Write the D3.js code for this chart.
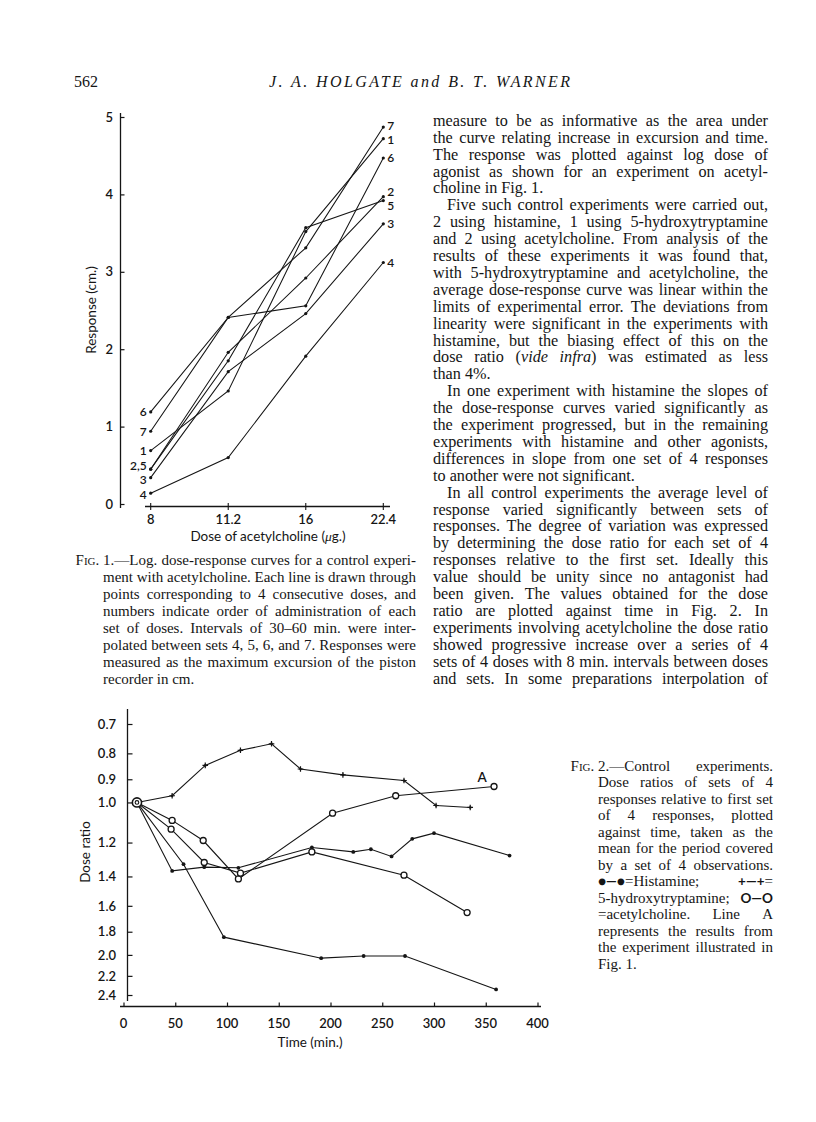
<!DOCTYPE html>
<html><head><meta charset="utf-8">
<script src="https://cdn.jsdelivr.net/npm/d3@7"></script>
<style>
body{margin:0;background:#fff;}
svg{display:block;}
</style></head><body>
<script>
// ================= DATA =================
// Fig. 1 : log dose-response curves (response in cm)
const doses = ["8", "11.2", "16", "22.4"];
const responseTicks = [0, 1, 2, 3, 4, 5];
const set1 = [0.69, 1.46, 3.52, 4.72];
const set2 = [0.45, 1.96, 2.92, 3.97];
const set3 = [0.34, 1.71, 2.46, 3.62];
const set4 = [0.14, 0.60, 1.91, 3.12];
const set5 = [0.45, 1.85, 3.57, 3.92];
const set6 = [1.19, 2.41, 2.56, 4.47];
const set7 = [0.94, 2.41, 3.31, 4.87];
const setNames = ["1", "2", "3", "4", "5", "6", "7"];
const startLabels = ["1", "2,5", "3", "4", "", "6", "7"];

// Fig. 2 : dose ratio against time
const timeTicks = [0, 50, 100, 150, 200, 250, 300, 350, 400];
const ratioTicks = [0.7, 0.8, 0.9, 1.0, 1.2, 1.4, 1.6, 1.8, 2.0, 2.2, 2.4];
const ratioTickLabels = ["0.7", "0.8", "0.9", "1.0", "1.2", "1.4", "1.6", "1.8", "2.0", "2.2", "2.4"];
const startTime = 13;
const ht5Time  = [13, 47, 79, 113, 143, 171, 212, 271, 302, 335];
const ht5Ratio = [1.0, 0.97, 0.845, 0.789, 0.766, 0.859, 0.882, 0.905, 1.014, 1.023];
const achATime  = [13, 47, 77, 111, 202, 263, 358];
const achARatio = [1.0, 1.085, 1.189, 1.416, 1.05, 0.97, 0.93];
const achBTime  = [13, 46, 78, 113, 182, 271, 332];
const achBRatio = [1.0, 1.129, 1.314, 1.379, 1.252, 1.392, 1.65];
const hist1Time  = [13, 47, 78, 111, 182, 222, 239, 259, 279, 300, 373];
const hist1Ratio = [1.0, 1.365, 1.342, 1.346, 1.227, 1.252, 1.237, 1.278, 1.18, 1.15, 1.273];
const hist2Time  = [13, 58, 97, 191, 232, 272, 360];
const hist2Ratio = [1.0, 1.324, 1.845, 2.03, 2.01, 2.01, 2.34];

// Page text (* italic, ~ small caps, # bold sans)
const pageNumber = "562";
const runningHead = "J. A. HOLGATE and B. T. WARNER";
const bodyLines = [
  "measure to be as informative as the area under",
  "the curve relating increase in excursion and time.",
  "The response was plotted against log dose of",
  "agonist as shown for an experiment on acetyl-",
  "choline in Fig. 1.",
  "Five such control experiments were carried out,",
  "2 using histamine, 1 using 5-hydroxytryptamine",
  "and 2 using acetylcholine. From analysis of the",
  "results of these experiments it was found that,",
  "with 5-hydroxytryptamine and acetylcholine, the",
  "average dose-response curve was linear within the",
  "limits of experimental error. The deviations from",
  "linearity were significant in the experiments with",
  "histamine, but the biasing effect of this on the",
  "dose ratio (*vide* *infra*) was estimated as less",
  "than 4%.",
  "In one experiment with histamine the slopes of",
  "the dose-response curves varied significantly as",
  "the experiment progressed, but in the remaining",
  "experiments with histamine and other agonists,",
  "differences in slope from one set of 4 responses",
  "to another were not significant.",
  "In all control experiments the average level of",
  "response varied significantly between sets of",
  "responses. The degree of variation was expressed",
  "by determining the dose ratio for each set of 4",
  "responses relative to the first set. Ideally this",
  "value should be unity since no antagonist had",
  "been given. The values obtained for the dose",
  "ratio are plotted against time in Fig. 2. In",
  "experiments involving acetylcholine the dose ratio",
  "showed progressive increase over a series of 4",
  "sets of 4 doses with 8 min. intervals between doses",
  "and sets. In some preparations interpolation of"
];
const bodyParaStarts = [5, 16, 22];
const bodyParaEnds = [4, 15, 21];

const fig1Label = "~Fig.~";
const fig1Caption = [
  "1.—Log. dose-response curves for a control experi-",
  "ment with acetylcholine. Each line is drawn through",
  "points corresponding to 4 consecutive doses, and",
  "numbers indicate order of administration of each",
  "set of doses. Intervals of 30–60 min. were inter-",
  "polated between sets 4, 5, 6, and 7. Responses were",
  "measured as the maximum excursion of the piston",
  "recorder in cm."
];
const fig2Label = "~Fig.~";
const fig2Caption = [
  "2.—Control experiments.",
  "Dose ratios of sets of 4",
  "responses relative to first set",
  "of 4 responses, plotted",
  "against time, taken as the",
  "mean for the period covered",
  "by a set of 4 observations.",
  "#●—●#=Histamine; #+—+#=",
  "5-hydroxytryptamine; #O—O#",
  "=acetylcholine. Line A",
  "represents the results from",
  "the experiment illustrated in",
  "Fig. 1."
];

// ================= DRAWING =================
const W = 816, H = 1122;
const SERIF = "'Liberation Serif','Times New Roman',serif";
const SANS = "Lato,'Open Sans','DejaVu Sans',sans-serif";
const INK = "#151515";

const svg = d3.select("body").append("svg").attr("width", W).attr("height", H)
  .style("background", "#fff");

function makeWord(g, w, y, fs) {
  const t = g.append("text").attr("y", y)
    .attr("font-family", SERIF).attr("font-size", fs).attr("fill", INK);
  let it = false, sc = false, sb = false, buf = "";
  const flush = () => {
    if (!buf) return;
    const ts = t.append("tspan").text(buf);
    if (it) ts.attr("font-style", "italic");
    if (sc) ts.attr("font-variant", "small-caps");
    if (sb) ts.attr("font-family", SANS).attr("font-weight", "bold").attr("font-size", fs * 0.9);
    buf = "";
  };
  for (const ch of w) {
    if (ch === "*") { flush(); it = !it; }
    else if (ch === "~") { flush(); sc = !sc; }
    else if (ch === "#") { flush(); sb = !sb; }
    else buf += ch;
  }
  flush();
  return { t, w: t.node().getComputedTextLength() };
}

function textLine(g, str, x0, x1, y, justify, fs, lead) {
  const words = str.split(/ +/).filter(s => s.length);
  const nodes = words.map(w => makeWord(g, w, y, fs));
  let total = d3.sum(nodes, d => d.w);
  const sp = fs * 0.25, minGap = fs * 0.16;
  const n = nodes.length;
  if (n > 1 && total + (n - 1) * minGap > x1 - x0) {
    const s = (x1 - x0 - (n - 1) * minGap) / total;
    nodes.forEach(d => { d.t.attr("font-size", fs * s); d.w *= s; });
    total *= s;
  }
  const gap = (justify && n > 1) ? (x1 - x0 - total) / (n - 1) : sp;
  let x = x0;
  nodes.forEach(d => { d.t.attr("x", x); x += d.w + gap; });
  if (lead) {
    const L = makeWord(g, lead, y, fs);
    L.t.attr("x", x0 - L.w - sp);
  }
}

// ---- header
const head = svg.append("g");
head.append("text").attr("x", 74).attr("y", 87).attr("font-family", SERIF)
  .attr("font-size", 16).attr("fill", INK).text(pageNumber);
head.append("text").attr("x", 269).attr("y", 87).attr("font-family", SERIF)
  .attr("font-size", 16).attr("font-style", "italic").attr("fill", INK)
  .attr("textLength", 301).attr("lengthAdjust", "spacing").text(runningHead);

// ---- right column body text
const BFS = 16.2;
const LH = 16.9, L0 = 121, BASE = 4.8;
const body = svg.append("g");
bodyLines.forEach((s, i) => {
  const indent = bodyParaStarts.includes(i) ? 14 : 0;
  textLine(body, s, 433 + indent, 768, L0 + i * LH + BASE, !bodyParaEnds.includes(i), BFS);
});

// ---- Fig. 1 caption (aligned with body lines 26..33), hanging label
const CFS = 15.0;
const cap1 = svg.append("g");
fig1Caption.forEach((s, i) => {
  textLine(cap1, s, 103, 416, L0 + (26 + i) * LH + BASE, i < fig1Caption.length - 1, CFS,
    i === 0 ? fig1Label : null);
});

// ---- Fig. 2 caption, hanging label
const cap2 = svg.append("g");
fig2Caption.forEach((s, i) => {
  textLine(cap2, s, 598, 773, 766 + i * 16.5 + BASE, i < fig2Caption.length - 1, CFS,
    i === 0 ? fig2Label : null);
});

// ================= FIG. 1 CHART =================
const TFS = 13, LFS = 12;
const f1 = svg.append("g");
const x1s = d3.scalePoint().domain(doses).range([150.7, 383.3]);
const y1s = d3.scaleLinear().domain([0, 5]).range([504, 117]);

f1.append("line").attr("x1", 120.5).attr("x2", 120.5).attr("y1", 113).attr("y2", 508)
  .attr("stroke", INK).attr("stroke-width", 1.3);
const yAx1 = d3.axisRight(y1s).tickValues(responseTicks).tickSize(4).tickFormat("");
f1.append("g").attr("transform", "translate(120.5,0)").call(yAx1)
  .call(g => g.select(".domain").remove())
  .selectAll("line").attr("stroke", INK).attr("stroke-width", 1.2);
f1.selectAll(".ylab1").data(responseTicks).join("text")
  .attr("x", 113).attr("y", d => y1s(d)).attr("dy", "0.36em")
  .attr("text-anchor", "end").attr("font-family", SANS).attr("font-size", TFS)
  .attr("font-weight", 600).attr("fill", INK).text(d => d);

f1.append("line").attr("x1", 145).attr("x2", 390).attr("y1", 506.5).attr("y2", 506.5)
  .attr("stroke", INK).attr("stroke-width", 1.3);
f1.selectAll(".xt1").data(doses).join("line")
  .attr("x1", d => x1s(d)).attr("x2", d => x1s(d)).attr("y1", 503).attr("y2", 510)
  .attr("stroke", INK).attr("stroke-width", 1.1);
f1.selectAll(".xlab1").data(doses).join("text")
  .attr("x", d => x1s(d)).attr("y", 524).attr("text-anchor", "middle")
  .attr("font-family", SANS).attr("font-size", TFS).attr("font-weight", 600)
  .attr("fill", INK).text(d => d);
const xt = f1.append("text").attr("x", 268).attr("y", 541).attr("text-anchor", "middle")
  .attr("font-family", SANS).attr("font-size", 13.5).attr("fill", INK);
xt.append("tspan").text("Dose of acetylcholine (");
xt.append("tspan").attr("font-family", SERIF).attr("font-style", "italic").text("μ");
xt.append("tspan").text("g.)");
f1.append("text").attr("transform", "translate(96,310) rotate(-90)")
  .attr("text-anchor", "middle").attr("font-family", SANS).attr("font-size", 13.5)
  .attr("fill", INK).text("Response (cm.)");

const sets = [set1, set2, set3, set4, set5, set6, set7];
const line1 = d3.line().x((d, i) => x1s(doses[i])).y(d => y1s(d));
f1.selectAll(".set").data(sets).join("path")
  .attr("d", line1).attr("fill", "none").attr("stroke", INK).attr("stroke-width", 1.05);
sets.forEach(s => {
  f1.selectAll(null).data(s).join("circle")
    .attr("cx", (d, i) => x1s(doses[i])).attr("cy", d => y1s(d)).attr("r", 1.6).attr("fill", INK);
});

function spread(items, gap) {
  items.sort((a, b) => a.y - b.y);
  for (let k = 0; k < 40; k++) {
    for (let i = 1; i < items.length; i++) {
      const d = items[i].y - items[i - 1].y;
      if (d < gap) { const m = (gap - d) / 2; items[i - 1].y -= m; items[i].y += m; }
    }
  }
  return items;
}
const rightItems = spread(sets.map((s, i) => ({ t: setNames[i], y: y1s(s[3]) })), 14.5);
f1.selectAll(".rl").data(rightItems).join("text")
  .attr("x", x1s("22.4") + 4).attr("y", d => d.y).attr("dy", "0.36em")
  .attr("font-family", SANS).attr("font-size", LFS).attr("font-weight", 600)
  .attr("fill", INK).text(d => d.t);
const leftItems = spread(sets.map((s, i) => ({ t: startLabels[i], y: y1s(s[0]) }))
  .filter(d => d.t), 14.5);
f1.selectAll(".ll").data(leftItems).join("text")
  .attr("x", x1s("8") - 4).attr("y", d => d.y).attr("dy", "0.36em").attr("text-anchor", "end")
  .attr("font-family", SANS).attr("font-size", LFS).attr("font-weight", 600)
  .attr("fill", INK).text(d => d.t);

// ================= FIG. 2 CHART =================
const f2 = svg.append("g");
const x2s = d3.scaleLinear().domain([0, 400]).range([123.5, 537.5]);
const y2s = d3.scaleLog().domain([0.7, 2.4]).range([724, 995]);
const axX = 127.5, axY = 1006.5;

f2.append("line").attr("x1", axX).attr("x2", axX).attr("y1", 709).attr("y2", 1001)
  .attr("stroke", INK).attr("stroke-width", 1.3);
const yAx2 = d3.axisRight(y2s).tickValues(ratioTicks).tickSize(5).tickFormat("");
f2.append("g").attr("transform", `translate(${axX},0)`).call(yAx2)
  .call(g => g.select(".domain").remove())
  .selectAll("line").attr("stroke", INK).attr("stroke-width", 1.2);
f2.selectAll(".ylab2").data(ratioTicks).join("text")
  .attr("x", 116).attr("y", d => y2s(d)).attr("dy", "0.36em").attr("text-anchor", "end")
  .attr("font-family", SANS).attr("font-size", TFS).attr("font-weight", 600)
  .attr("fill", INK).text((d, i) => ratioTickLabels[i]);

f2.append("line").attr("x1", 120).attr("x2", 541).attr("y1", axY).attr("y2", axY)
  .attr("stroke", INK).attr("stroke-width", 1.3);
const xAx2 = d3.axisTop(x2s).tickValues(timeTicks).tickSize(4).tickFormat("");
f2.append("g").attr("transform", `translate(0,${axY})`).call(xAx2)
  .call(g => g.select(".domain").remove())
  .selectAll("line").attr("stroke", INK).attr("stroke-width", 1.2);
f2.selectAll(".xlab2").data(timeTicks).join("text")
  .attr("x", d => x2s(d)).attr("y", axY + 21).attr("text-anchor", "middle")
  .attr("font-family", SANS).attr("font-size", TFS).attr("font-weight", 600)
  .attr("fill", INK).text(d => d);
f2.append("text").attr("x", 310).attr("y", axY + 40).attr("text-anchor", "middle")
  .attr("font-family", SANS).attr("font-size", 13.5).attr("fill", INK).text("Time (min.)");
f2.append("text").attr("transform", "translate(90,852) rotate(-90)")
  .attr("text-anchor", "middle").attr("font-family", SANS).attr("font-size", 13.5)
  .attr("fill", INK).text("Dose ratio");

const series2 = [
  { t: ht5Time, r: ht5Ratio, m: "plus" },
  { t: achATime, r: achARatio, m: "open" },
  { t: achBTime, r: achBRatio, m: "open" },
  { t: hist1Time, r: hist1Ratio, m: "dot" },
  { t: hist2Time, r: hist2Ratio, m: "dot" }
];
const line2 = d3.line().x(d => x2s(d[0])).y(d => y2s(d[1]));
series2.forEach(s => {
  const pts = s.t.map((t, i) => [t, s.r[i]]);
  f2.append("path").attr("d", line2(pts)).attr("fill", "none")
    .attr("stroke", INK).attr("stroke-width", 1.1);
  const p = pts.filter(d => d[0] !== startTime);
  if (s.m === "dot") {
    f2.selectAll(null).data(p).join("circle").attr("cx", d => x2s(d[0])).attr("cy", d => y2s(d[1]))
      .attr("r", 1.9).attr("fill", INK);
  } else if (s.m === "open") {
    f2.selectAll(null).data(p).join("circle").attr("cx", d => x2s(d[0])).attr("cy", d => y2s(d[1]))
      .attr("r", 3).attr("fill", "#fff").attr("stroke", INK).attr("stroke-width", 1.3);
  } else {
    const gp = f2.selectAll(null).data(p).join("g")
      .attr("transform", d => `translate(${x2s(d[0])},${y2s(d[1])})`);
    gp.append("path").attr("d", "M-2.8,0H2.8M0,-2.8V2.8").attr("stroke", INK).attr("stroke-width", 1.2);
    gp.append("circle").attr("r", 1.3).attr("fill", INK);
  }
});
f2.append("circle").attr("cx", x2s(startTime)).attr("cy", y2s(1.0)).attr("r", 4.6)
  .attr("fill", "#fff").attr("stroke", INK).attr("stroke-width", 1.6);
f2.append("circle").attr("cx", x2s(startTime)).attr("cy", y2s(1.0)).attr("r", 1.8)
  .attr("fill", "none").attr("stroke", INK).attr("stroke-width", 1.1);
const aEnd = achATime.length - 1;
f2.append("text").attr("x", x2s(achATime[aEnd]) - 12).attr("y", y2s(achARatio[aEnd]) - 4)
  .attr("text-anchor", "middle").attr("font-family", SANS).attr("font-size", 13.5)
  .attr("font-weight", 600).attr("fill", INK).text("A");
</script>
</body></html>
